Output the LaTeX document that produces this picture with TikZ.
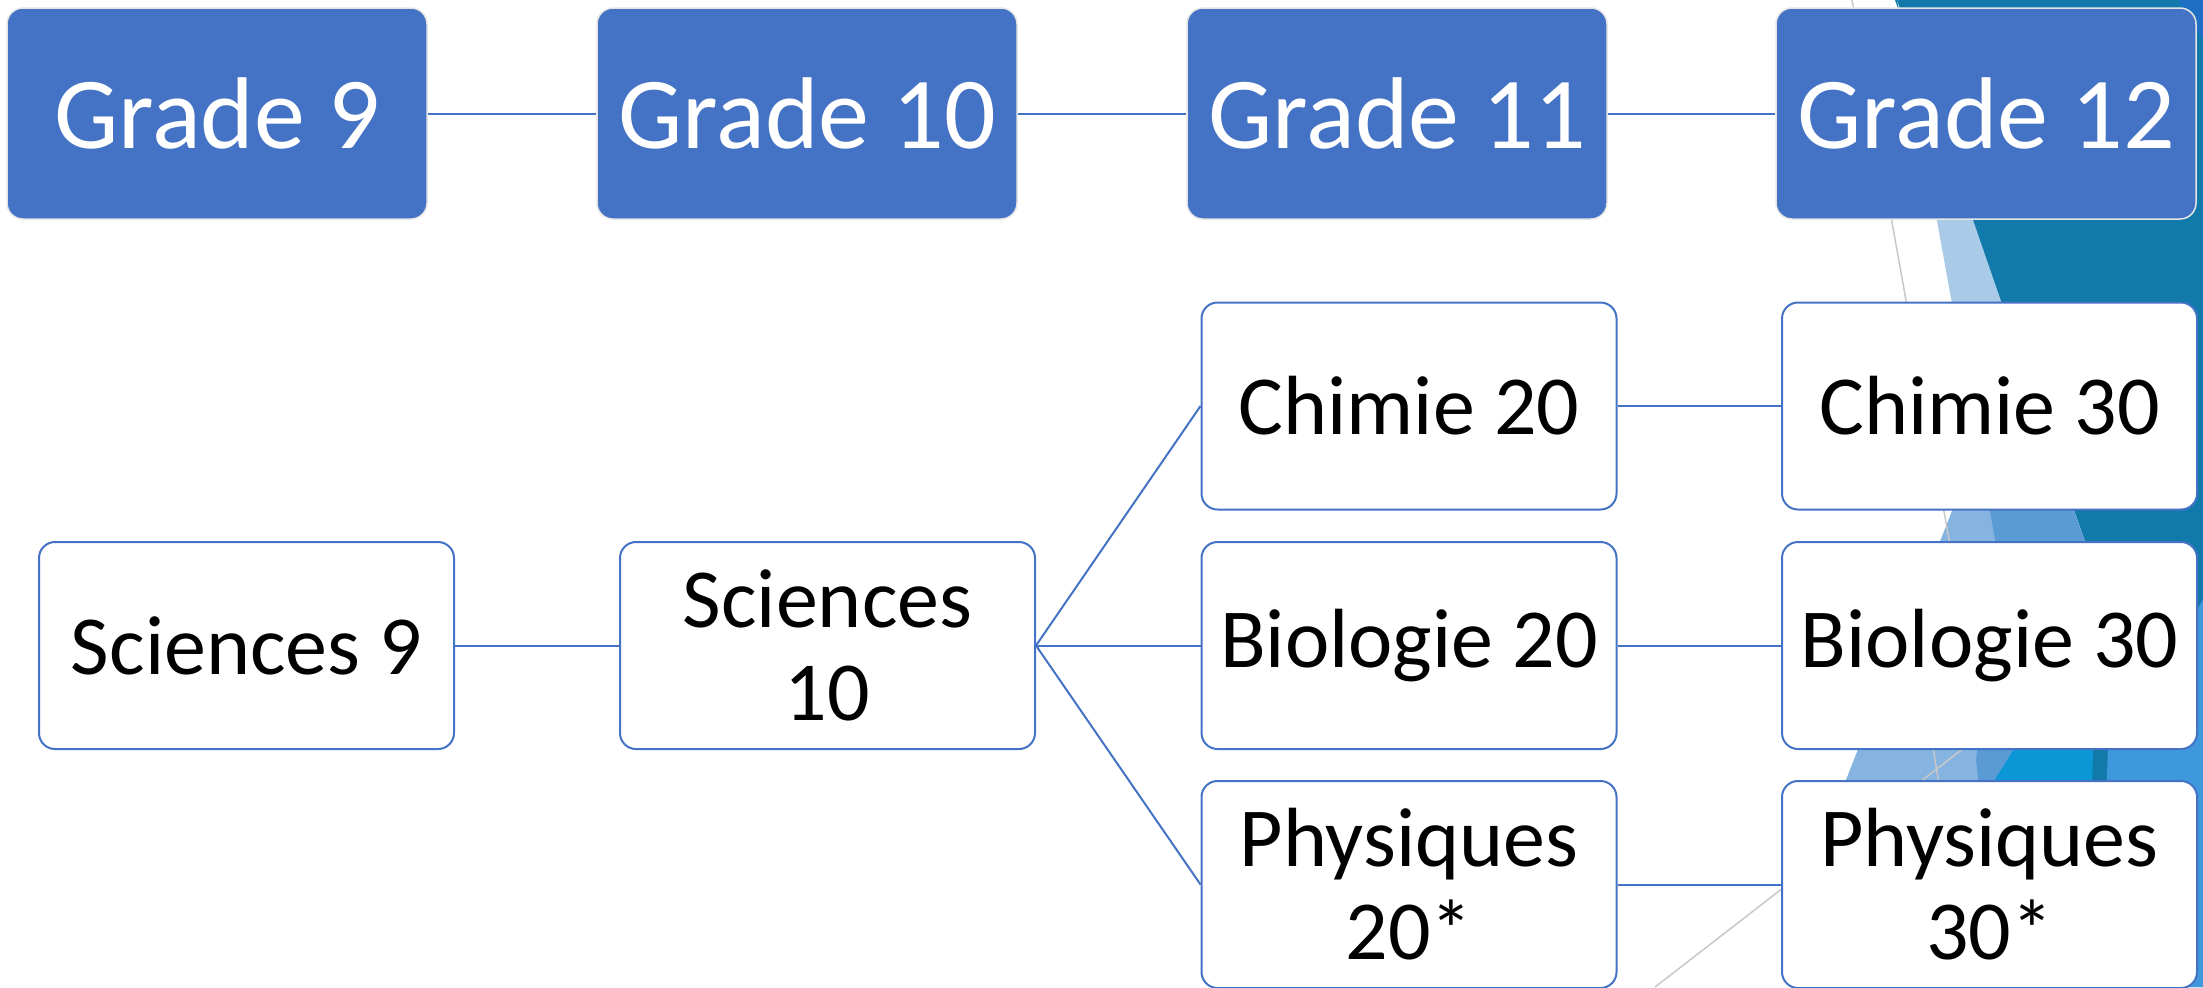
\documentclass[tikz,border=0pt]{standalone}
\usepackage{fontspec}
\setmainfont{Carlito}
\usepackage{tikz}

\definecolor{gradeblue}{HTML}{4472C4}
\definecolor{facetteal}{HTML}{127AAA}
\definecolor{facetpale}{HTML}{A9CBE8}
\definecolor{facetlight}{HTML}{85B4E1}
\definecolor{facetmid}{HTML}{5B9BD5}
\definecolor{facetbright}{HTML}{0B97D5}
\definecolor{facetsky}{HTML}{3F97DC}
\definecolor{facettop}{HTML}{1F6FC5}
\definecolor{facetline}{HTML}{C8C8C8}

\begin{document}
\begin{tikzpicture}[x=0.5pt, y=-0.5pt,
             grade/.style = {draw=white!80!gray, fill=gradeblue, text=white, rounded corners=8pt,
                             line width=0.75pt, minimum width=210pt, minimum height=105.5pt,
                             inner sep=0pt, font=\fontsize{51}{56}\selectfont},
             course/.style = {draw=gradeblue, fill=white, rounded corners=8pt, line width=1pt,
                              minimum width=207.5pt, minimum height=103.5pt, inner sep=0pt,
                              align=center, font=\fontsize{42}{46.5}\selectfont},
             link/.style = {draw=gradeblue, line width=1pt}]
\useasboundingbox (0,0) rectangle (2203,987);
\clip (0,0) rectangle (2203,987);

\fill [facetteal] (1895,0) -- (2203,0) -- (2203,987) -- (1990,987) -- (2095,570) -- cycle;
\fill [facettop] (2178,0) -- (2203,0) -- (2203,40) -- cycle;
\fill [facetpale] (1897,0) -- (2042,420) -- (1973,420) -- cycle;
\fill [facetmid] (1973,420) -- (2042,420) -- (2095,570) -- (2095,630) -- (1985,800) -- (1950,800) -- (1960,600) -- cycle;
\fill [facetbright] (2095,620) -- (2092,800) -- (1982,800) -- cycle;
\fill [facetsky] (2108,745) -- (2203,600) -- (2203,987) -- (2100,987) -- cycle;
\fill [facetlight] (1978,445) -- (1995,540) -- (1976,760) -- (1980,800) -- (1838,800) -- cycle;
\draw [facetline, line width=0.75pt] (1852,0) -- (1950,545);
\draw [facetline, line width=0.75pt] (1925,700) -- (1945,820);
\draw [facetline, line width=0.75pt] (2000,720) -- (1655,987);

\node [grade] (g9) at (217,113.5) {Grade 9};
\node [grade] (g10) at (807,113.5) {Grade 10};
\node [grade] (g11) at (1397,113.5) {Grade 11};
\node [grade] (g12) at (1986,113.5) {Grade 12};

\node [course] (sci9) at (246.5,645.5) {Sciences 9};
\node [course] (sci10) at (827.5,645.5) {Sciences\\10};
\node [course] (chim20) at (1409,406) {Chimie 20};
\node [course] (bio20) at (1409,645.5) {Biologie 20};
\node [course] (phys20) at (1409,884.5) {Physiques\\20*};
\node [course] (chim30) at (1989.5,406) {Chimie 30};
\node [course] (bio30) at (1989.5,645.5) {Biologie 30};
\node [course] (phys30) at (1989.5,884.5) {Physiques\\30*};

\draw [link] (g9) -- (g10);
\draw [link] (g10) -- (g11);
\draw [link] (g11) -- (g12);

\draw [link] (sci9) -- (sci10);
\draw [link] (sci10.east) -- (chim20.west);
\draw [link] (sci10.east) -- (bio20.west);
\draw [link] (sci10.east) -- (phys20.west);
\draw [link] (chim20) -- (chim30);
\draw [link] (bio20) -- (bio30);
\draw [link] (phys20) -- (phys30);

\end{tikzpicture}
\end{document}
